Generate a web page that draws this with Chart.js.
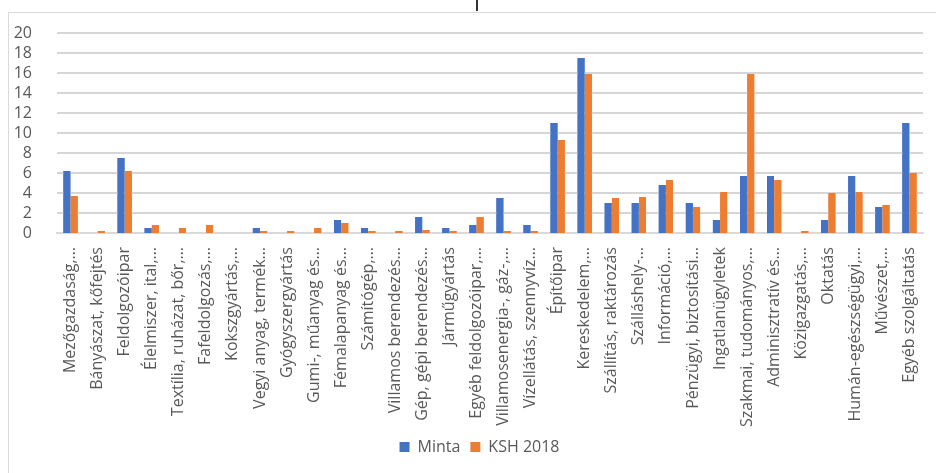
<!DOCTYPE html>
<html>
<head>
<meta charset="utf-8">
<script src="https://cdn.jsdelivr.net/npm/chart.js@4"></script>
<style>
  html, body { margin: 0; padding: 0; background: #fff; }
  #wrap { position: relative; width: 936px; height: 473px; overflow: hidden; }
  #frame { position: absolute; left: 8px; top: 12px; width: 1000px; height: 600px;
           border-left: 1px solid #d9d9d9; border-top: 1px solid #d9d9d9; }
  #mark { position: absolute; left: 476px; top: 0; width: 2px; height: 11px; background: #333; }
  canvas { position: absolute; left: 0; top: 0; }
</style>
</head>
<body>
<div id="wrap">
  <div id="frame"></div>
  <div id="mark"></div>
  <canvas id="chart" width="936" height="473"></canvas>
</div>
<script>
// ágazatok (rövidített feliratok, ahogy a tengelyen megjelennek)
const agazatok = [
  "Mezőgazdaság,…", "Bányászat, kőfejtés", "Feldolgozóipar", "Élelmiszer, ital,…",
  "Textília, ruházat, bőr,…", "Fafeldolgozás,…", "Kokszgyártás,…", "Vegyi anyag, termék…",
  "Gyógyszergyártás", "Gumi-, műanyag és…", "Fémalapanyag és…", "Számítógép,…",
  "Villamos berendezés…", "Gép, gépi berendezés…", "Járműgyártás", "Egyéb feldolgozóipar,…",
  "Villamosenergia-, gáz-,…", "Vízellátás, szennyvíz…", "Építőipar", "Kereskedelem,…",
  "Szállítás, raktározás", "Szálláshely-…", "Információ,…", "Pénzügyi, biztosítási…",
  "Ingatlanügyletek", "Szakmai, tudományos,…", "Adminisztratív és…", "Közigazgatás,…",
  "Oktatás", "Humán-egészségügyi,…", "Művészet,…", "Egyéb szolgáltatás"
];

const minta = [
  6.2, 0, 7.5, 0.5, 0, 0, 0, 0.5, 0, 0, 1.3, 0.5, 0, 1.6, 0.5, 0.8,
  3.5, 0.8, 11.0, 17.5, 3.0, 3.0, 4.8, 3.0, 1.3, 5.7, 5.7, 0, 1.3, 5.7, 2.6, 11.0
];

const ksh2018 = [
  3.7, 0.2, 6.2, 0.8, 0.5, 0.8, 0, 0.2, 0.2, 0.5, 1.0, 0.2, 0.2, 0.3, 0.2, 1.6,
  0.2, 0.2, 9.3, 15.9, 3.5, 3.6, 5.3, 2.6, 4.1, 15.9, 5.3, 0.2, 4.0, 4.1, 2.8, 6.0
];

const yMin = 0, yMax = 20, yStep = 2;

const textColor = '#595959';
const gridColor = '#d9d9d9';
const fontName = "'Open Sans', sans-serif";

// a jelmagyarázat kicsit jobbra tolva, a rajzterület közepe felé
const legendShift = {
  id: 'legendShift',
  afterLayout(chart) {
    const lg = chart.legend;
    if (!lg) return;
    lg.left += 14;
    lg.right += 14;
  }
};

// vízszintes rácsvonalak az y osztásainál, utána az oszlopokat újrarajzoljuk föléjük
const yGrid = {
  id: 'yGrid',
  afterDraw(chart) {
    const { ctx, chartArea, scales } = chart;
    const y = scales.y;
    ctx.save();
    ctx.strokeStyle = '#d6d6d6';
    ctx.lineWidth = 2;
    y.ticks.forEach(t => {
      if (t.value === yMin) return; // a nulla vonal maga a tengely
      const py = Math.round(y.getPixelForValue(t.value));
      ctx.beginPath();
      ctx.moveTo(chartArea.left, py);
      ctx.lineTo(chartArea.right, py);
      ctx.stroke();
    });
    ctx.restore();
    chart.getSortedVisibleDatasetMetas().forEach(meta => {
      meta.data.forEach(bar => bar.draw(ctx));
    });
  }
};

new Chart(document.getElementById('chart'), {
  type: 'bar',
  data: {
    labels: agazatok,
    datasets: [
      { label: 'Minta', data: minta, backgroundColor: '#4472C4' },
      { label: 'KSH 2018', data: ksh2018, backgroundColor: '#ED7D31' }
    ]
  },
  plugins: [legendShift, yGrid],
  options: {
    responsive: false,
    animation: false,
    layout: { padding: { left: 8, right: 13, top: 33, bottom: 8 } },
    datasets: { bar: { categoryPercentage: 0.54, barPercentage: 0.95 } },
    plugins: {
      tooltip: { enabled: false },
      legend: {
        position: 'bottom',
        labels: {
          color: textColor,
          font: { family: fontName, size: 16 },
          boxWidth: 10, boxHeight: 10, padding: 10
        }
      }
    },
    scales: {
      x: {
        grid: { display: false },
        border: { display: true, color: gridColor, width: 2 },
        ticks: {
          color: textColor, font: { family: fontName, size: 16 },
          minRotation: 90, maxRotation: 90, autoSkip: false, padding: 6
        },
        afterFit(scale) { scale.height = 196; }
      },
      y: {
        min: yMin, max: yMax,
        grid: { display: false },
        border: { display: false },
        ticks: {
          stepSize: yStep, autoSkip: false, color: textColor,
          font: { family: fontName, size: 16 }, padding: 17
        },
        afterFit(scale) { scale.width = 49; }
      }
    }
  }
});
</script>
</body>
</html>
